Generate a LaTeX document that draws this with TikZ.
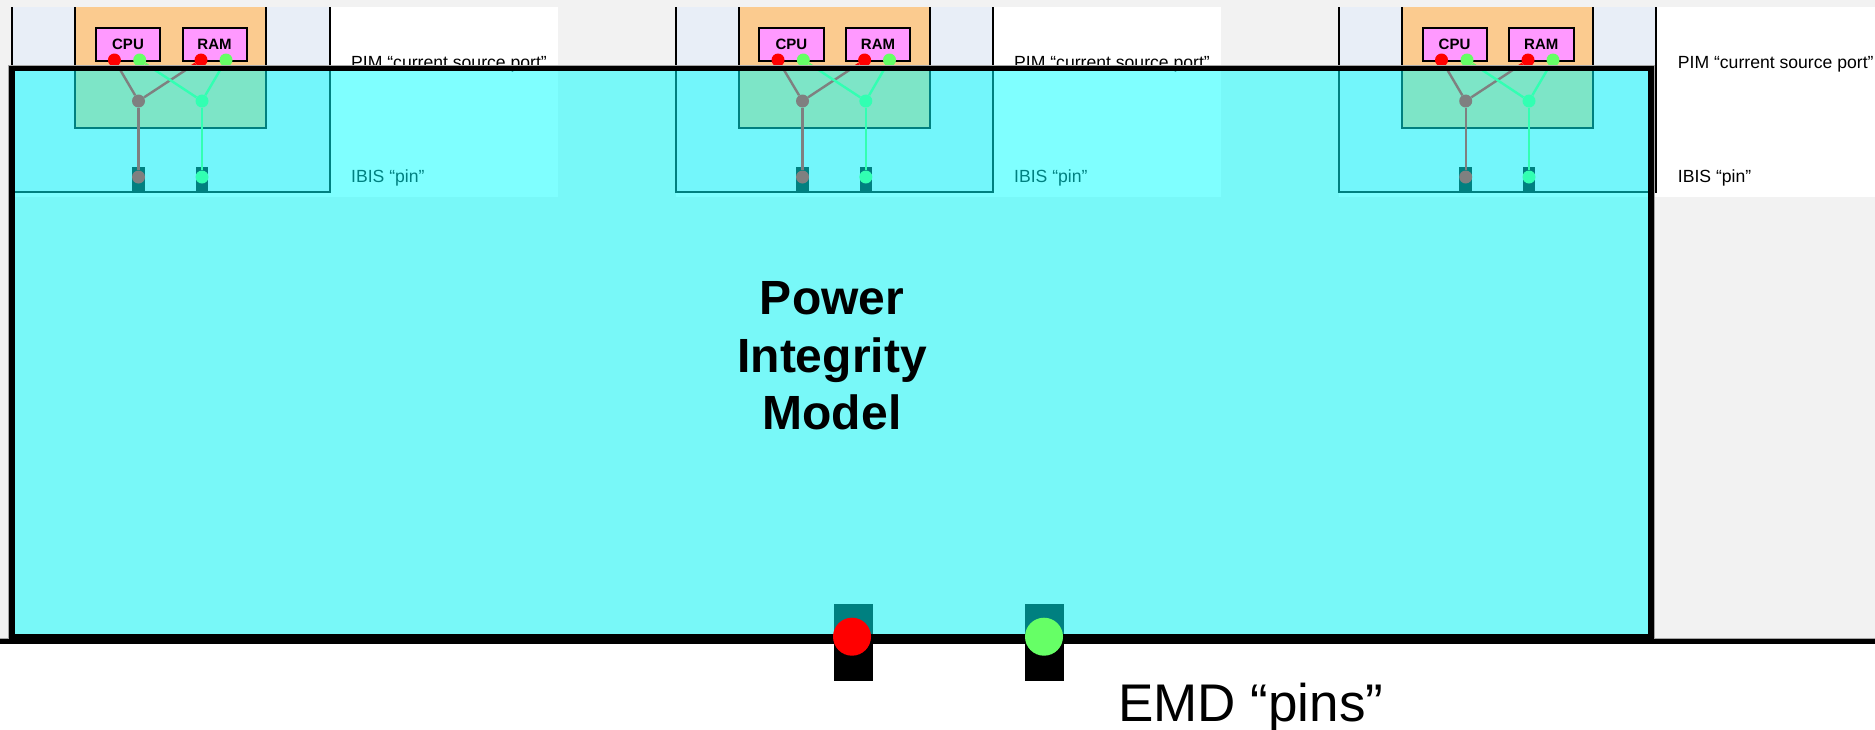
\documentclass[tikz,border=0pt]{standalone}
\usepackage{fontspec}
\setmainfont{Liberation Sans}
\definecolor{pagegray}{HTML}{F2F2F2}
\definecolor{edgegray}{HTML}{A6A6A6}
\definecolor{boxblue}{HTML}{E8EEF7}
\definecolor{pkgorange}{HTML}{FBCB8F}
\definecolor{diemagenta}{HTML}{FF99FF}
\definecolor{pwrred}{HTML}{FF0000}
\definecolor{gndgreen}{HTML}{66FF66}
\definecolor{modelcyan}{HTML}{00FFFF}
\tikzset{
  dieblock/.style={draw=black,line width=2,fill=diemagenta,inner sep=0,minimum height=33,
    font=\bfseries\fontsize{15}{15}\selectfont,text=black},
  portdot/.style={circle,inner sep=0,minimum size=13},
  pinbar/.style={fill=black,inner sep=0,minimum width=12.6,minimum height=25},
  reddot/.style={portdot,fill=pwrred},
  greendot/.style={portdot,fill=gndgreen},
  redwire/.style={draw=pwrred,line width=2.4},
  greenwire/.style={draw=gndgreen,line width=2.4},
  smalllabel/.style={anchor=base west,inner sep=0,font=\fontsize{17.6}{20}\selectfont},
  empin/.style={fill=black,inner sep=0,minimum width=39,minimum height=77},
  emdot/.style={circle,inner sep=0,minimum size=38},
}
\begin{document}
\begin{tikzpicture}[x=1pt,y=-1pt]
\useasboundingbox (0,0) rectangle (1875,729);
\fill[white] (0,0) rectangle (1875,729);
\fill[pagegray] (0,0) rectangle (1875,638);
\foreach \g/\ol/\orr/\pr/\bl/\br/\cl/\cr/\rl/\rr/\ra/\ga/\rb/\gb/\jr/\jg/\tx in {
  a/12/330/558/75/266/96/160/182.5/246.5/114.4/139.7/201/226/138.5/202/351,
  b/676/992.7/1221/739/929.8/759.4/823.5/846/910/778/803.3/864.6/889.5/802.5/865.8/1014,
  c/1338.5/1656.4/1875/1402.3/1593.4/1422.5/1486.6/1509/1573.6/1441.5/1467/1528/1553/1465.7/1529/1677.7}{
  \fill[white] (\ol,7) rectangle (\pr,197);
  \fill[boxblue] (\ol,7) rectangle (\orr,192);
  \draw[black,line width=2] (\ol,7) -- (\ol,192) -- (\orr,192) -- (\orr,7);
  \fill[pkgorange] (\bl,7) rectangle (\br,128);
  \draw[black,line width=2] (\bl,7) -- (\bl,128) -- (\br,128) -- (\br,7);
  \node[dieblock,minimum width={\cr-\cl}] (\g cpu) at ({(\cl+\cr)/2},44.5) {CPU};
  \node[dieblock,minimum width={\rr-\rl}] (\g ram) at ({(\rl+\rr)/2},44.5) {RAM};
  \node[pinbar] (\g pinr) at (\jr,179.5) {};
  \node[pinbar] (\g ping) at (\jg,179.5) {};
  \node[reddot] (\g ra) at (\ra,60) {};
  \node[greendot] (\g ga) at (\ga,60) {};
  \node[reddot] (\g rb) at (\rb,60) {};
  \node[greendot] (\g gb) at (\gb,60) {};
  \node[reddot] (\g jr) at (\jr,101) {};
  \node[greendot] (\g jg) at (\jg,101) {};
  \node[reddot] (\g dr) at (\jr,177) {};
  \node[greendot] (\g dg) at (\jg,177) {};
  \draw[redwire] (\g ra) -- (\g jr);
  \draw[redwire] (\g rb) -- (\g jr);
  \draw[redwire] (\g jr) -- (\g dr);
  \draw[greenwire] (\g ga) -- (\g jg);
  \draw[greenwire] (\g gb) -- (\g jg);
  \draw[greenwire] (\g jg) -- (\g dg);
  \node[smalllabel] (\g pim) at (\tx,68.3) {PIM “current source port”};
  \node[smalllabel] (\g ibis) at (\tx,182.3) {IBIS “pin”};
}
\node[empin] (emdr) at (853.5,642.5) {};
\node[empin] (emdg) at (1044.5,642.5) {};
\draw[edgegray,line width=1] (0,638) -- (1875,638);
\draw[edgegray,line width=1] (8.8,638) -- (8.8,65.3) -- (1654.8,65.3) -- (1654.8,638);
\draw[black,line width=5.5,fill=modelcyan,fill opacity=.5] (12,68.5) rectangle (1651.2,636.5);
\fill[black] (0,638.5) rectangle (1875,643.5);
\fill[black] (834,639) rectangle (873,681);
\fill[black] (1025,639) rectangle (1064,681);
\node[emdot,fill=pwrred] (emr) at (852,636.7) {};
\node[emdot,fill=gndgreen] (emg) at (1044,636.7) {};
\node[align=center,inner sep=0,font=\bfseries\fontsize{48}{57.6}\selectfont] (title) at (832,356) {Power\\Integrity\\Model};
\node[anchor=base west,inner sep=0,font=\fontsize{53}{60}\selectfont] (emd) at (1118,721.7) {EMD “pins”};
\end{tikzpicture}
\end{document}
